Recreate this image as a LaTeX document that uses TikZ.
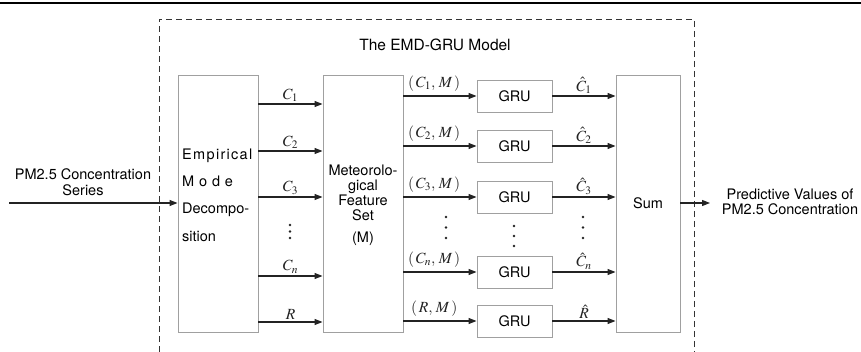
\documentclass[tikz,border=0pt]{standalone}
\usepackage{mathptmx}
\usepackage[no-math]{fontspec}
\setmainfont{TeX Gyre Heros}
\usetikzlibrary{arrows.meta,positioning}
\definecolor{boxcol}{RGB}{160,160,160}
\definecolor{arcol}{RGB}{35,35,35}

\begin{document}
\begin{tikzpicture}[x=1pt,y=-1pt,
  box/.style={draw=boxcol,line width=0.9pt,inner sep=0pt},
  bigbox/.style={box,minimum width=80pt,minimum height=257pt},
  grubox/.style={box,minimum width=75pt,minimum height=32pt,font=\fontsize{14.5}{17}\selectfont},
  txt/.style={font=\fontsize{14.5}{17}\selectfont},
  arr/.style={-{Triangle[length=8pt,width=6pt]},arcol,line width=1.1pt},
  lab/.style={font=\fontsize{15.5}{18}\selectfont,above=1pt,inner sep=1pt},
  pairlab/.style={lab,above=3pt,pos=0.42},
  dotsty/.style={fill=arcol}]
\useasboundingbox (0,0) rectangle (861,352);
% frame
\draw[line width=1.4pt] (0,3) -- (861,3);
\draw[black!80,line width=0.9pt,dash pattern=on 6pt off 4pt]
  (159,352) -- (159,19) -- (694,19) -- (694,352);
\node[txt,font=\fontsize{15.5}{18}\selectfont] (title) at (435,45) {The EMD-GRU Model};

% main blocks
\node[bigbox] (emd) at (218,203.5) {};
\node[bigbox] (met) at (363,203.5) {};
\node[bigbox,minimum width=64pt,txt] (sum) at (648,203.5) {Sum};
\node[txt,anchor=north west,align=left,text width=72pt,inner sep=0pt,
  font=\fontsize{14.5}{27.3}\selectfont] (emdtxt) at (182,148.5)
  {{\addfontfeature{LetterSpace=9}Empirical}\\ \makebox[70pt][s]{M o d e}\\ Decompo-\\ sition};
\node[txt,anchor=north,align=center,inner sep=0pt,
  font=\fontsize{14.5}{15}\selectfont] (mettxt) at (363,164.5)
  {Meteorolo-\\ gical\\ Feature\\ Set\\[7pt] (M)};

\node[grubox] (g1) at (514.5,96) {GRU};
\node[grubox] (g2) at (514.5,146) {GRU};
\node[grubox] (g3) at (514.5,197) {GRU};
\node[grubox] (gn) at (514.5,272) {GRU};
\node[grubox] (gR) at (514.5,321) {GRU};

% input / output
\coordinate (in) at (9,203);
\coordinate (out) at (710,203);
\node[txt,align=center,font=\fontsize{14.5}{16}\selectfont] (inlab) at (83,182)
  {PM2.5 Concentration\\ Series};
\node[txt,align=center,font=\fontsize{14.5}{14.5}\selectfont] (outlab) at (790,202)
  {Predictive Values of\\ PM2.5 Concentration};
\draw[arr] (in) -- (emd.west |- in);
\draw[arr] (sum.east |- out) -- (out);

% decomposition outputs
\coordinate (e1) at (0,104);
\coordinate (e2) at (0,151);
\coordinate (e3) at (0,197);
\coordinate (en) at (0,276);
\coordinate (eR) at (0,322);
\draw[arr] (emd.east |- e1) -- node[lab]{$C_1$} (met.west |- e1);
\draw[arr] (emd.east |- e2) -- node[lab]{$C_2$} (met.west |- e2);
\draw[arr] (emd.east |- e3) -- node[lab]{$C_3$} (met.west |- e3);
\draw[arr] (emd.east |- en) -- node[lab]{$C_n$} (met.west |- en);
\draw[arr] (emd.east |- eR) -- node[lab]{$R$} (met.west |- eR);

% feature pairs into GRUs
\draw[arr] (met.east |- g1) -- node[pairlab]{$(\,C_1,\,M\,)$} (g1);
\draw[arr] (met.east |- g2) -- node[pairlab]{$(\,C_2,\,M\,)$} (g2);
\draw[arr] (met.east |- g3) -- node[pairlab]{$(\,C_3,\,M\,)$} (g3);
\draw[arr] (met.east |- gn) -- node[pairlab]{$(\,C_n,\,M\,)$} (gn);
\draw[arr] (met.east |- gR) -- node[pairlab]{$(\,R,\,M\,)$} (gR);

% GRU outputs into sum
\draw[arr] (g1) -- node[lab]{$\hat{C}_1$} (sum.west |- g1);
\draw[arr] (g2) -- node[lab]{$\hat{C}_2$} (sum.west |- g2);
\draw[arr] (g3) -- node[lab]{$\hat{C}_3$} (sum.west |- g3);
\draw[arr] (gn) -- node[lab]{$\hat{C}_n$} (sum.west |- gn);
\draw[arr] (gR) -- node[lab]{$\hat{R}$} (sum.west |- gR);

% vertical dots
\foreach \x/\y/\d in {290/225/6.5, 446/217/10.5, 514/226/10, 583/217/10.5}
  \foreach \k in {0,1,2}
    \fill[dotsty] (\x,\y+\k*\d) circle (1.3pt);
\end{tikzpicture}
\end{document}
